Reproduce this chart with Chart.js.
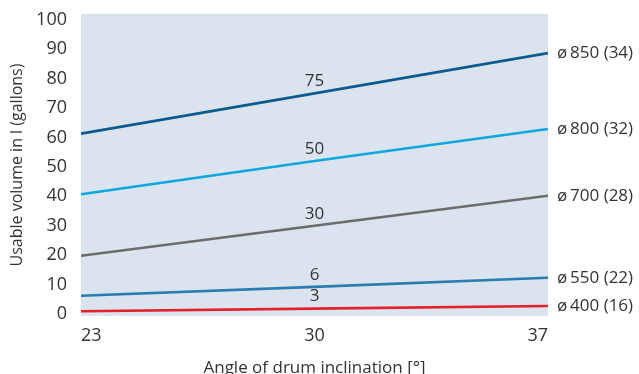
<!DOCTYPE html>
<html>
<head>
<meta charset="utf-8">
<script src="https://cdn.jsdelivr.net/npm/chart.js@4/dist/chart.umd.min.js"></script>
<style>
  html, body { margin: 0; padding: 0; background: #fff; }
  #wrap { width: 639px; height: 374px; }
</style>
</head>
<body>
<div id="wrap"><canvas id="chart" width="639" height="374"></canvas></div>
<script>
// Angle of drum inclination (x) and usable volume per drum size
const angles = [23, 30, 37];
const yTicks = [0, 10, 20, 30, 40, 50, 60, 70, 80, 90, 100];
const xTicks = [23, 30, 37];

const d850 = [61.3, 75, 88.7];
const d800 = [40.7, 52, 62.9];
const d700 = [19.8, 30, 40.2];
const d550 = [6.2, 9.2, 12.3];
const d400 = [0.9, 1.8, 2.7];

const seriesNames = ['ø\u2009850 (34)', 'ø\u2009800 (32)', 'ø\u2009700 (28)', 'ø\u2009550 (22)', 'ø\u2009400 (16)'];
const midLabels = ['75', '50', '30', '6', '3'];
const colors = ['#0c5a8e', '#0ba7df', '#6b6c6e', '#2a7db0', '#e42028'];

const FONT = '"Open Sans", "Noto Sans", sans-serif';
const TEXT = '#333333';

const seriesData = [d850, d800, d700, d550, d400];

// Plot background
const bgPlugin = {
  id: 'plotBg',
  beforeDraw(chart) {
    const { ctx, chartArea: a } = chart;
    ctx.save();
    ctx.fillStyle = '#dbe4ee';
    ctx.fillRect(a.left, a.top, a.right - a.left, a.bottom - a.top);
    ctx.restore();
  }
};

// Labels: end-of-line names and middle values
const labelPlugin = {
  id: 'lineLabels',
  afterDatasetsDraw(chart) {
    const { ctx, scales: { x, y } } = chart;
    ctx.save();
    ctx.fillStyle = TEXT;
    ctx.textBaseline = 'middle';
    chart.data.datasets.forEach((ds, i) => {
      const last = ds.data[ds.data.length - 1];
      ctx.font = `17px ${FONT}`;
      ctx.textAlign = 'left';
      ctx.fillText(seriesNames[i], x.right + 9, y.getPixelForValue(last.y));
      const mid = ds.data[1];
      ctx.textAlign = 'center';
      ctx.fillText(midLabels[i], x.getPixelForValue(mid.x), y.getPixelForValue(mid.y) - 12);
    });
    ctx.restore();
  }
};

new Chart(document.getElementById('chart').getContext('2d'), {
  type: 'line',
  data: {
    datasets: seriesData.map((vals, i) => ({
      label: seriesNames[i],
      data: vals.map((v, j) => ({ x: angles[j], y: v })),
      borderColor: colors[i],
      borderWidth: 2.6,
      pointRadius: 0,
      tension: 0,
    }))
  },
  options: {
    responsive: false,
    animation: false,
    layout: { padding: { top: 14, right: 91, left: 0, bottom: 0 } },
    plugins: { legend: { display: false }, tooltip: { enabled: false } },
    scales: {
      x: {
        type: 'linear', min: 23, max: 37,
        afterBuildTicks: s => { s.ticks = xTicks.map(v => ({ value: v })); },
        afterFit: s => { s.height = 58; s.paddingLeft = 0; s.paddingRight = 0; },
        grid: { display: false, drawTicks: false },
        border: { display: false },
        ticks: { align: 'inner', padding: 9, color: TEXT, font: { family: FONT, size: 18 } },
        title: { display: true, text: 'Angle of drum inclination [°]', color: TEXT,
                 font: { family: FONT, size: 17 }, padding: { top: 8, bottom: -4 } }
      },
      y: {
        min: -0.7, max: 102,
        afterBuildTicks: s => { s.ticks = yTicks.map(v => ({ value: v })); },
        afterFit: s => { s.width = 81; s.paddingTop = 0; s.paddingBottom = 0; },
        grid: { display: false, drawTicks: false },
        border: { display: false },
        ticks: { padding: 14, color: TEXT, font: { family: FONT, size: 18 } },
        title: { display: true, text: 'Usable volume in l (gallons)', color: TEXT,
                 font: { family: FONT, size: 16 }, padding: { top: 8, bottom: 0 } }
      }
    }
  },
  plugins: [bgPlugin, labelPlugin]
});
</script>
</body>
</html>
